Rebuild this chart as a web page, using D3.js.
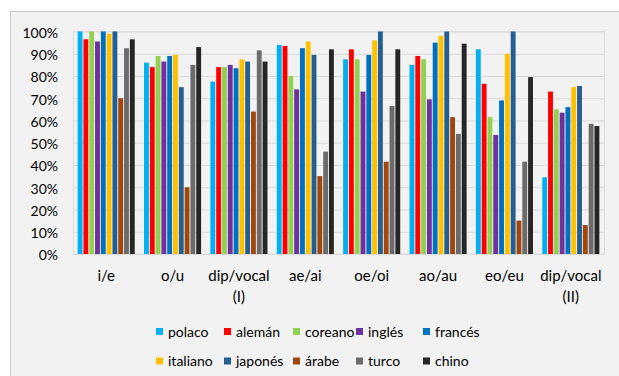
<html>
<head>
    <script src="https://d3js.org/d3.v7.min.js"></script>
    <style>
        body { margin: 0; background: #fff; }
        text { font-family: Lato, "Liberation Sans", sans-serif; fill: #000; }
        .gridlines line { stroke: #d9d9d9; }
        .gridlines .domain { stroke: none; }
        .y.axis .domain, .y.axis line { stroke: none; }
    </style>
</head>
<body>
    <svg id="chart" width="619" height="376"></svg>
    <script>
        // data
        const categories = ["i/e", "o/u", "dip/vocal|(I)", "ae/ai", "oe/oi", "ao/au", "eo/eu", "dip/vocal|(II)"];
        const languages = ["polaco", "alemán", "coreano", "inglés", "francés", "italiano", "japonés", "árabe", "turco", "chino"];
        const colors = ["#00b0f0", "#ff0000", "#92d050", "#7030a0", "#0070c0", "#ffc000", "#255e91", "#9e480e", "#6b6b6b", "#262626"];
        const yTicks = [0, 10, 20, 30, 40, 50, 60, 70, 80, 90, 100];

        const polaco   = [100, 86, 77.5, 94, 87.5, 85, 92, 34.5];
        const aleman   = [96.5, 84, 84, 93.5, 92, 89, 76.5, 73];
        const coreano  = [100, 89, 84, 80, 87.5, 87.5, 61.5, 65];
        const ingles   = [95.5, 86.5, 85, 74, 73, 69.5, 53.5, 63.5];
        const frances  = [100, 89, 83.5, 92.5, 89.5, 95, 69, 66];
        const italiano = [99, 89.5, 87.5, 95.5, 96, 98, 90, 75];
        const japones  = [100, 75, 86.5, 89.5, 100, 100, 100, 75.5];
        const arabe    = [70, 30, 64, 35, 41.5, 61.5, 15, 13];
        const turco    = [92.5, 85, 91.5, 46, 66.5, 54, 41.5, 58.5];
        const chino    = [96.5, 93, 86.5, 92, 92, 94.5, 79.5, 57.5];

        const seriesValues = [polaco, aleman, coreano, ingles, frances, italiano, japones, arabe, turco, chino];

        const svg = d3.select("#chart");
        const plot = { left: 73, right: 604, top: 31.5, bottom: 254 };

        // chart area frame
        svg.append("rect")
            .attr("x", 10.5).attr("y", 11.5)
            .attr("width", 640).attr("height", 400)
            .attr("fill", "#f2f2f2")
            .attr("stroke", "#c4c4c4");

        const x0 = d3.scaleBand().domain(categories)
            .range([plot.left, plot.right])
            .paddingInner(0.14).paddingOuter(0.07);
        const x1 = d3.scaleBand().domain(languages)
            .range([0, x0.bandwidth()])
            .paddingInner(0.16);
        const y = d3.scaleLinear().domain([0, 100]).range([plot.bottom, plot.top]);
        const color = d3.scaleOrdinal().domain(languages).range(colors);

        // plot area border
        svg.append("rect")
            .attr("x", plot.left + 0.5).attr("y", plot.top)
            .attr("width", plot.right - plot.left).attr("height", plot.bottom - plot.top)
            .attr("fill", "none").attr("stroke", "#dcdcdc");

        let gridlines = d3.axisLeft(y).tickValues(yTicks)
            .tickSize(-(plot.right - plot.left)).tickFormat("");
        svg.append("g")
            .attr("class", "gridlines")
            .attr("transform", "translate(" + plot.left + ",0)")
            .call(gridlines);

        let leftAxis = d3.axisLeft(y).tickValues(yTicks)
            .tickSize(0).tickPadding(15)
            .tickFormat(d => d + "%");
        svg.append("g")
            .attr("class", "y axis")
            .attr("transform", "translate(" + plot.left + ",0)")
            .call(leftAxis)
            .selectAll("text")
            .style("font-size", "14px")
            .attr("dy", "0.42em");

        // bars
        const groups = svg.append("g").selectAll("g")
            .data(categories)
            .join("g")
            .attr("transform", d => "translate(" + x0(d) + ",0)");

        groups.selectAll("rect")
            .data((c, ci) => languages.map((l, li) => ({ lang: l, value: seriesValues[li][ci] })))
            .join("rect")
            .attr("x", d => x1(d.lang))
            .attr("y", d => y(d.value))
            .attr("width", x1.bandwidth())
            .attr("height", d => y(0) - y(d.value))
            .attr("fill", d => color(d.lang));

        // category labels (two lines where needed)
        categories.forEach(c => {
            const lines = c.split("|");
            const t = svg.append("text")
                .attr("x", x0(c) + x0.bandwidth() / 2)
                .attr("y", 281)
                .attr("text-anchor", "middle")
                .style("font-size", "15px");
            lines.forEach((line, i) => {
                t.append("tspan")
                    .attr("x", x0(c) + x0.bandwidth() / 2)
                    .attr("dy", i === 0 ? 0 : 20.5)
                    .text(line);
            });
        });

        // legend
        const legendX = [156, 224, 293, 356, 423];
        const legendY = [331.5, 361];
        languages.forEach((l, i) => {
            const lx = legendX[i % 5];
            const ly = legendY[Math.floor(i / 5)];
            svg.append("rect")
                .attr("x", lx).attr("y", ly - 3.5)
                .attr("width", 7).attr("height", 7)
                .attr("fill", color(l));
            svg.append("text")
                .attr("x", lx + 12)
                .attr("y", ly)
                .attr("dy", "0.36em")
                .style("font-size", "14px")
                .text(l);
        });
    </script>
</body>
</html>
